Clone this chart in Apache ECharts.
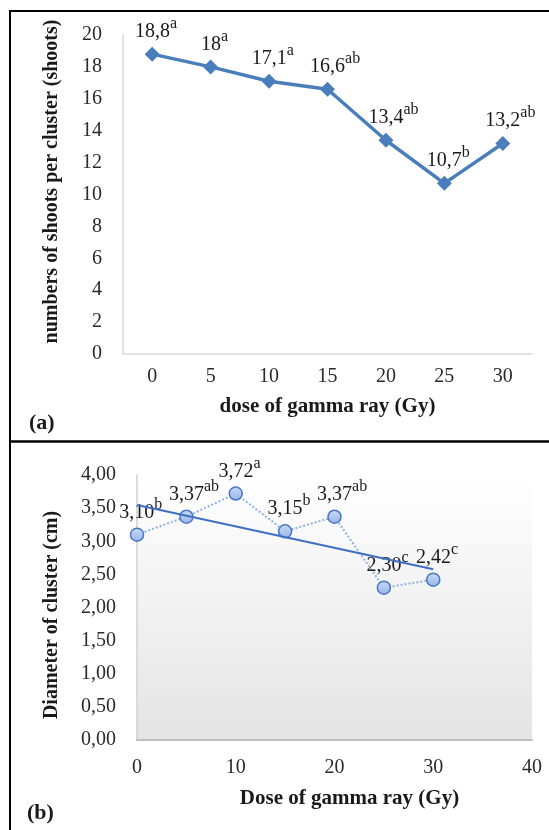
<!DOCTYPE html>
<html>
<head>
<meta charset="utf-8">
<script src="https://cdn.jsdelivr.net/npm/echarts@6/dist/echarts.min.js"></script>
<style>
  html, body { margin: 0; padding: 0; background: #fff; }
  #chart { width: 549px; height: 830px; }
</style>
</head>
<body>
<div id="chart"></div>
<script>
// ---- Panel (a): number of shoots per cluster ----
const doseCats = ['0', '5', '10', '15', '20', '25', '30'];
const shoots = [18.8, 18, 17.1, 16.6, 13.4, 10.7, 13.2];
const shootsLetters = ['a', 'a', 'a', 'ab', 'ab', 'b', 'ab'];
const shootsTicks = [0, 20, 2]; // min, max, interval

// ---- Panel (b): diameter of cluster ----
const doseB = [0, 5, 10, 15, 20, 25, 30];
const diameter = [3.10, 3.37, 3.72, 3.15, 3.37, 2.30, 2.42];
const diameterLetters = ['b', 'ab', 'a', 'b', 'ab', 'c', 'c'];
const doseTicks = [0, 40, 10];
const diameterTicks = [0, 4, 0.5];

// linear trend line (least squares) of panel (b)
function linFit(xs, ys) {
  const n = xs.length;
  const mx = xs.reduce((a, b) => a + b, 0) / n;
  const my = ys.reduce((a, b) => a + b, 0) / n;
  let sxy = 0, sxx = 0;
  for (let i = 0; i < n; i++) { sxy += (xs[i] - mx) * (ys[i] - my); sxx += (xs[i] - mx) ** 2; }
  const slope = sxy / sxx;
  return { slope, intercept: my - slope * mx };
}
const fit = linFit(doseB, diameter);
const trendX = [doseB[0], doseB[doseB.length - 1]];
const trend = trendX.map(x => [x, fit.intercept + fit.slope * x]);

const SERIF = '"Liberation Serif", "Times New Roman", serif';
const textCol = '#1a1a1a';

function richLabel() {
  return {
    show: true,
    position: 'top',
    distance: 5,
    rich: {
      n: { fontFamily: SERIF, fontSize: 20, color: textCol, lineHeight: 26, verticalAlign: 'bottom' },
      s: { fontFamily: SERIF, fontSize: 16, color: textCol, lineHeight: 15, verticalAlign: 'top' }
    }
  };
}

const fmtA = v => String(v).replace('.', ',');
const fmtB = v => Number(v).toFixed(2).replace('.', ',');

const chart = echarts.init(document.getElementById('chart'), null, { renderer: 'canvas' });

const seriesA = shoots.map((v, i) => ({
  value: v,
  label: { offset: [shootsLetters[i].length * 3.8, 0] }
}));
const seriesB = diameter.map((v, i) => ({
  value: [doseB[i], v],
  label: { offset: [diameterLetters[i].length * 3.8, 0] }
}));

const labA = richLabel();
labA.formatter = p => '{n|' + fmtA(p.value) + '}{s|' + shootsLetters[p.dataIndex] + '}';
const labB = richLabel();
labB.formatter = p => '{n|' + fmtB(p.value[1]) + '}{s|' + diameterLetters[p.dataIndex] + '}';

const tickFont = { fontFamily: SERIF, fontSize: 20, color: '#2a2a2a' };
const titleFont = { fontFamily: SERIF, fontSize: 21, fontWeight: 'bold', color: textCol };

chart.setOption({
  animation: false,
  backgroundColor: '#ffffff',
  grid: [
    { left: 123, right: 17, top: 35, bottom: 476, containLabel: false },
    {
      left: 137, right: 17, top: 475, bottom: 90, containLabel: false, show: true, borderWidth: 0,
      backgroundColor: new echarts.graphic.LinearGradient(0, 0, 0, 1, [
        { offset: 0, color: '#ffffff' }, { offset: 1, color: '#e4e4e4' }
      ])
    }
  ],
  xAxis: [
    {
      gridIndex: 0, type: 'category', data: doseCats, boundaryGap: true,
      axisLine: { show: true, lineStyle: { color: '#d9d9d9', width: 1.5 } },
      axisTick: { show: false },
      axisLabel: Object.assign({ margin: 13 }, tickFont),
      name: 'dose of gamma ray (Gy)', nameLocation: 'middle', nameGap: 42,
      nameTextStyle: Object.assign({}, titleFont)
    },
    {
      gridIndex: 1, type: 'value', min: doseTicks[0], max: doseTicks[1], interval: doseTicks[2],
      axisLine: { show: true, lineStyle: { color: '#c0c0c0', width: 2 } },
      axisTick: { show: false }, splitLine: { show: false },
      axisLabel: Object.assign({ margin: 18 }, tickFont),
      name: 'Dose of gamma ray (Gy)', nameLocation: 'middle', nameGap: 48,
      nameTextStyle: Object.assign({ padding: [0, 0, 0, 30] }, titleFont)
    }
  ],
  yAxis: [
    {
      gridIndex: 0, type: 'value', min: shootsTicks[0], max: shootsTicks[1], interval: shootsTicks[2],
      axisLine: { show: true, lineStyle: { color: '#d9d9d9', width: 1.5 } },
      axisTick: { show: false }, splitLine: { show: false },
      axisLabel: Object.assign({ margin: 21 }, tickFont),
      name: 'numbers of shoots per cluster (shoots)', nameLocation: 'middle', nameGap: 61,
      nameTextStyle: Object.assign({ padding: [0, 0, 0, 26] }, titleFont, { fontSize: 20 })
    },
    {
      gridIndex: 1, type: 'value', min: diameterTicks[0], max: diameterTicks[1], interval: diameterTicks[2],
      axisLine: { show: true, lineStyle: { color: '#d0d0d0', width: 1.5 } },
      axisTick: { show: false }, splitLine: { show: false },
      axisLabel: Object.assign({ margin: 21, formatter: v => fmtB(v) }, tickFont),
      name: 'Diameter of cluster (cm)', nameLocation: 'middle', nameGap: 75,
      nameTextStyle: Object.assign({ padding: [0, 15, 0, 0] }, titleFont, { fontSize: 20 })
    }
  ],
  series: [
    {
      type: 'line', xAxisIndex: 0, yAxisIndex: 0, data: seriesA,
      symbol: 'diamond', symbolSize: 15,
      lineStyle: { color: '#4a7ebb', width: 3.5 },
      itemStyle: { color: '#4a7ebb' },
      label: labA, z: 3
    },
    {
      type: 'line', xAxisIndex: 1, yAxisIndex: 1, data: seriesB,
      symbol: 'circle', symbolSize: 13,
      lineStyle: { color: '#8db3e2', width: 2, type: [2, 2] },
      itemStyle: {
        color: new echarts.graphic.LinearGradient(0, 0, 0, 1, [
          { offset: 0, color: '#c9daf5' }, { offset: 1, color: '#98b6ea' }
        ]),
        borderColor: '#4a76c8', borderWidth: 1.5
      },
      label: labB, z: 3
    },
    {
      type: 'line', xAxisIndex: 1, yAxisIndex: 1, data: trend,
      symbol: 'none', lineStyle: { color: '#3e6fc4', width: 2 }, z: 4, silent: true
    }
  ],
  graphic: [
    { type: 'line', shape: { x1: 9, y1: 11, x2: 560, y2: 11 }, style: { stroke: '#000', lineWidth: 2 } },
    { type: 'line', shape: { x1: 10, y1: 10, x2: 10, y2: 840 }, style: { stroke: '#000', lineWidth: 2 } },
    { type: 'line', shape: { x1: 9, y1: 441.5, x2: 560, y2: 441.5 }, style: { stroke: '#000', lineWidth: 2.5 } },
    { type: 'text', left: 29, top: 412, style: { text: '(a)', font: 'bold 22px ' + SERIF, fill: textCol } },
    { type: 'text', left: 27, top: 802, style: { text: '(b)', font: 'bold 22px ' + SERIF, fill: textCol } }
  ]
});
</script>
</body>
</html>
